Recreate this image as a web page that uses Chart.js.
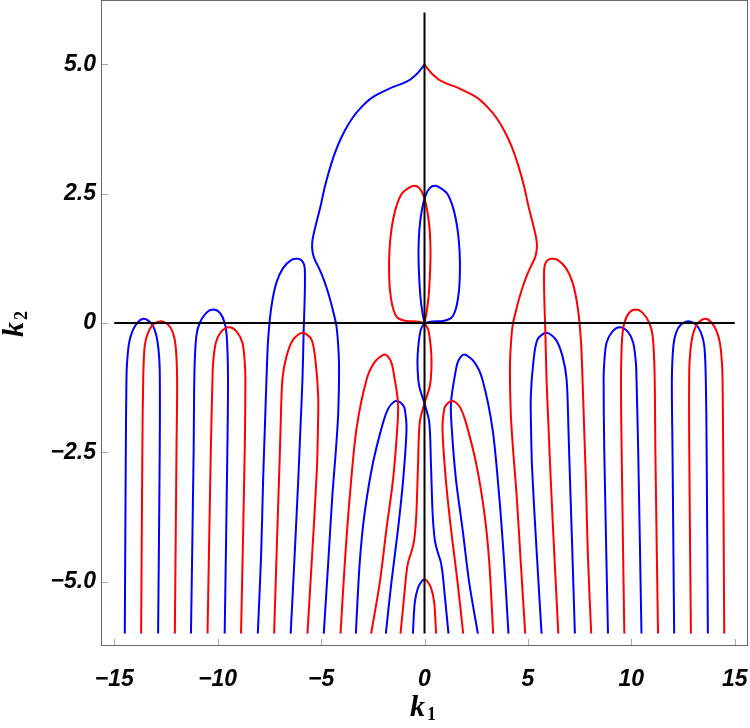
<!DOCTYPE html>
<html>
<head>
<meta charset="utf-8">
<script src="https://cdn.jsdelivr.net/npm/chart.js@4.4.1/dist/chart.umd.min.js"></script>
<style>
  html, body { margin: 0; padding: 0; background: #fff; }
  #wrap { width: 750px; height: 728px; }
</style>
</head>
<body>
<div id="wrap"><canvas id="plot" width="750" height="728"></canvas></div>
<script>
// tick positions
const xTicks = [-15, -10, -5, 0, 5, 10, 15];
const yTicks = [-5, -2.5, 0, 2.5, 5];

// axis lines through the origin
const axisH = [[-15, 0], [15, 0]];
const axisV = [[0, -6], [0, 6]];

// ---- blue contours, left / centre ----
const blueArch1 = [[-14.49,-6],[-14.44,-2.44],[-14.41,-1.09],[-14.38,-0.77],[-14.28,-0.38],[-14.09,-0.13],[-13.85,0.02],[-13.6,0.08],[-13.37,0.05],[-13.12,-0.06],[-12.96,-0.25],[-12.86,-0.51],[-12.8,-0.9],[-12.8,-2.44],[-12.88,-6]];
const blueArch2 = [[-11.29,-6],[-11.16,-2.44],[-11.14,-1.41],[-11.11,-0.77],[-11.03,-0.25],[-10.87,0.0],[-10.54,0.2],[-10.22,0.26],[-9.9,0.2],[-9.66,0],[-9.55,-0.32],[-9.5,-1.09],[-9.53,-2.44],[-9.66,-6]];
const blueArch3 = [[-8.06,-6],[-7.9,-4.5],[-7.8,-3.0],[-7.72,-2.05],[-7.64,-1.09],[-7.56,-0.32],[-7.40,0.32],[-7.16,0.78],[-6.84,1.06],[-6.43,1.22],[-6.11,1.24],[-5.9,1.19],[-5.79,1.06],[-5.79,0.52],[-5.84,-0.13],[-5.9,-1.09],[-6.0,-2.05],[-6.1,-3.0],[-6.28,-4.5],[-6.47,-6]];
const blueBig = [[0,4.99],[-0.18,4.9],[-0.4,4.8],[-0.7,4.7],[-1.05,4.63],[-1.45,4.57],[-1.85,4.5],[-2.25,4.42],[-2.65,4.32],[-3.05,4.17],[-3.45,3.98],[-3.85,3.72],[-4.2,3.42],[-4.52,3.06],[-4.8,2.66],[-5.03,2.25],[-5.22,1.95],[-5.36,1.72],[-5.43,1.55],[-5.42,1.4],[-5.33,1.25],[-5.15,1.1],[-4.95,0.92],[-4.75,0.7],[-4.56,0.45],[-4.4,0.2],[-4.26,-0.05],[-4.17,-0.45],[-4.13,-0.9],[-4.17,-1.73],[-4.28,-2.44],[-4.45,-3.3],[-4.65,-4.6],[-4.87,-6]];
const blueArch6 = [[-3.32,-6],[-3.13,-4.62],[-2.89,-3.66],[-2.49,-2.70],[-2.0,-1.92],[-1.75,-1.65],[-1.5,-1.53],[-1.28,-1.51],[-1.05,-1.58],[-0.95,-1.67],[-0.87,-2.05],[-1.03,-3.02],[-1.28,-3.98],[-1.60,-5.01],[-1.87,-6]];
const blueCusp = [[-0.56,-6],[-0.47,-5.40],[-0.31,-5.11],[-0.12,-4.98],[0,-4.95]];
const blueDown = [[0,0],[-0.18,-0.13],[-0.3,-0.45],[-0.34,-0.77],[-0.3,-1.1],[-0.22,-1.28],[0,-1.55],[0.23,-1.92],[0.31,-2.70],[0.39,-3.66],[0.47,-4.1],[0.55,-4.30],[0.68,-4.48],[0.79,-4.62],[0.88,-4.85],[0.95,-5.14],[1.05,-5.55],[1.16,-6]];
const blueLoop = [[0,0],[-0.1,0.2],[-0.2,0.52],[-0.27,1.0],[-0.29,1.4],[-0.25,1.8],[-0.14,2.15],[0.04,2.45],[0.26,2.61],[0.52,2.65],[0.8,2.6],[1.11,2.49],[1.4,2.2],[1.6,1.8],[1.7,1.35],[1.71,0.95],[1.66,0.6],[1.52,0.28],[1.3,0.1],[0.9,0.04],[0.4,0.03],[0,0]];

// ---- blue contours, right ----
const blueArch4R = [[4.06,-6],[3.85,-4.62],[3.61,-3.34],[3.29,-2.05],[2.80,-1.09],[2.4,-0.75],[1.92,-0.61],[1.65,-0.72],[1.52,-0.90],[1.28,-1.54],[1.32,-2.05],[1.52,-3.02],[1.84,-3.98],[2.16,-5.01],[2.58,-6]];
const blueArch3R = [[7.27,-6],[7.13,-4.2],[7.0,-2.6],[6.96,-2.05],[6.87,-1.09],[6.67,-0.64],[6.35,-0.32],[5.9,-0.19],[5.46,-0.32],[5.26,-0.77],[5.14,-1.41],[5.15,-2.0],[5.2,-2.8],[5.42,-4.4],[5.66,-6]];
const blueArch2R = [[10.49,-6],[10.33,-2.44],[10.25,-1.09],[10.22,-0.77],[10.09,-0.38],[9.82,-0.16],[9.45,-0.08],[9.09,-0.16],[8.8,-0.38],[8.69,-0.77],[8.66,-1.09],[8.69,-2.44],[8.87,-6]];
const blueArch1R = [[13.70,-6],[13.64,-2.44],[13.6,-1.09],[13.53,-0.45],[13.37,-0.19],[13.12,-0.03],[12.77,0.035],[12.4,-0.03],[12.16,-0.19],[12.03,-0.45],[11.96,-1.09],[11.99,-2.44],[12.07,-6]];

// ---- red contours, left / centre ----
const redArch1 = [[-13.70,-6],[-13.64,-2.44],[-13.6,-1.09],[-13.53,-0.45],[-13.37,-0.19],[-13.12,-0.03],[-12.77,0.035],[-12.4,-0.03],[-12.16,-0.19],[-12.03,-0.45],[-11.96,-1.09],[-11.99,-2.44],[-12.07,-6]];
const redArch2 = [[-10.49,-6],[-10.33,-2.44],[-10.25,-1.09],[-10.22,-0.77],[-10.09,-0.38],[-9.82,-0.16],[-9.45,-0.08],[-9.09,-0.16],[-8.8,-0.38],[-8.69,-0.77],[-8.66,-1.09],[-8.69,-2.44],[-8.87,-6]];
const redArch3 = [[-7.27,-6],[-7.13,-4.2],[-7.0,-2.6],[-6.96,-2.05],[-6.87,-1.09],[-6.67,-0.64],[-6.35,-0.32],[-5.9,-0.19],[-5.46,-0.32],[-5.26,-0.77],[-5.14,-1.41],[-5.15,-2.0],[-5.2,-2.8],[-5.42,-4.4],[-5.66,-6]];
const redArch4 = [[-4.06,-6],[-3.85,-4.62],[-3.61,-3.34],[-3.29,-2.05],[-2.80,-1.09],[-2.4,-0.75],[-1.92,-0.61],[-1.65,-0.72],[-1.52,-0.90],[-1.28,-1.54],[-1.32,-2.05],[-1.52,-3.02],[-1.84,-3.98],[-2.16,-5.01],[-2.58,-6]];
const redCusp = [[0.56,-6],[0.47,-5.40],[0.31,-5.11],[0.12,-4.98],[0,-4.95]];
const redDown = [[0,0],[0.18,-0.13],[0.3,-0.45],[0.34,-0.77],[0.3,-1.1],[0.22,-1.28],[0,-1.55],[-0.23,-1.92],[-0.31,-2.70],[-0.39,-3.66],[-0.47,-4.1],[-0.55,-4.30],[-0.68,-4.48],[-0.79,-4.62],[-0.88,-4.85],[-0.95,-5.14],[-1.05,-5.55],[-1.16,-6]];
const redLoop = [[0,0],[0.1,0.2],[0.2,0.52],[0.27,1.0],[0.29,1.4],[0.25,1.8],[0.14,2.15],[-0.04,2.45],[-0.26,2.61],[-0.52,2.65],[-0.8,2.6],[-1.11,2.49],[-1.4,2.2],[-1.6,1.8],[-1.7,1.35],[-1.71,0.95],[-1.66,0.6],[-1.52,0.28],[-1.3,0.1],[-0.9,0.04],[-0.4,0.03],[0,0]];

// ---- red contours, right ----
const redBig = [[0,4.99],[0.18,4.9],[0.4,4.8],[0.7,4.7],[1.05,4.63],[1.45,4.57],[1.85,4.5],[2.25,4.42],[2.65,4.32],[3.05,4.17],[3.45,3.98],[3.85,3.72],[4.2,3.42],[4.52,3.06],[4.8,2.66],[5.03,2.25],[5.22,1.95],[5.36,1.72],[5.43,1.55],[5.42,1.4],[5.33,1.25],[5.15,1.1],[4.95,0.92],[4.75,0.7],[4.56,0.45],[4.4,0.2],[4.26,-0.05],[4.17,-0.45],[4.13,-0.9],[4.17,-1.73],[4.28,-2.44],[4.45,-3.3],[4.65,-4.6],[4.87,-6]];
const redArch6R = [[3.32,-6],[3.13,-4.62],[2.89,-3.66],[2.49,-2.70],[2.0,-1.92],[1.75,-1.65],[1.5,-1.53],[1.28,-1.51],[1.05,-1.58],[0.95,-1.67],[0.87,-2.05],[1.03,-3.02],[1.28,-3.98],[1.60,-5.01],[1.87,-6]];
const redArch3R = [[8.06,-6],[7.9,-4.5],[7.8,-3.0],[7.72,-2.05],[7.64,-1.09],[7.56,-0.32],[7.40,0.32],[7.16,0.78],[6.84,1.06],[6.43,1.22],[6.11,1.24],[5.9,1.19],[5.79,1.06],[5.79,0.52],[5.84,-0.13],[5.9,-1.09],[6.0,-2.05],[6.1,-3.0],[6.28,-4.5],[6.47,-6]];
const redArch2R = [[11.29,-6],[11.16,-2.44],[11.14,-1.41],[11.11,-0.77],[11.03,-0.25],[10.87,0.0],[10.54,0.2],[10.22,0.26],[9.9,0.2],[9.66,0],[9.55,-0.32],[9.5,-1.09],[9.53,-2.44],[9.66,-6]];
const redArch1R = [[14.49,-6],[14.44,-2.44],[14.41,-1.09],[14.38,-0.77],[14.28,-0.38],[14.09,-0.13],[13.85,0.02],[13.6,0.08],[13.37,0.05],[13.12,-0.06],[12.96,-0.25],[12.86,-0.51],[12.8,-0.9],[12.8,-2.44],[12.88,-6]];

const blueCurves = [blueArch1, blueArch2, blueArch3, blueBig, blueArch6, blueCusp, blueDown, blueLoop,
                    blueArch4R, blueArch3R, blueArch2R, blueArch1R];
const redCurves = [redArch1, redArch2, redArch3, redArch4, redCusp, redDown, redLoop,
                   redBig, redArch6R, redArch3R, redArch2R, redArch1R];

function pts(arr) {
    return arr.map(p => ({ x: p[0], y: p[1] }));
}

function curve(arr, color) {
    return {
        data: pts(arr),
        showLine: true,
        borderColor: color,
        borderWidth: 2,
        pointRadius: 0,
        tension: 0.3,
        fill: false
    };
}

// axis lines first so they sit on top
let datasets = [curve(axisH, '#000'), curve(axisV, '#000')];
redCurves.forEach(c => datasets.push(curve(c, '#ff0000')));
blueCurves.forEach(c => datasets.push(curve(c, '#0000ff')));
datasets[0].tension = 0;
datasets[1].tension = 0;

function fmtX(v) {
    return v < 0 ? '\u2212' + Math.abs(v) : String(v);
}
function fmtY(v) {
    if (v === 0) return '0';
    return (v < 0 ? '\u2212' : '') + Math.abs(v).toFixed(1);
}

const tickFont = { family: '"Liberation Sans", Arial, sans-serif', size: 23, weight: 'bold', style: 'italic' };

// frame, inward ticks and axis titles
const framePlugin = {
    id: 'frame',
    afterDraw(chart) {
        const { ctx, chartArea: a, scales } = chart;
        ctx.save();
        ctx.lineWidth = 1;
        ctx.strokeStyle = '#a8a8a8';
        xTicks.forEach(v => {
            const px = Math.round(scales.x.getPixelForValue(v)) + 0.5;
            ctx.beginPath();
            ctx.moveTo(px, a.bottom);
            ctx.lineTo(px, a.bottom - 7);
            ctx.stroke();
        });
        yTicks.forEach(v => {
            const py = Math.round(scales.y.getPixelForValue(v)) + 0.5;
            ctx.beginPath();
            ctx.moveTo(a.left, py);
            ctx.lineTo(a.left + 7, py);
            ctx.stroke();
        });
        ctx.strokeStyle = '#666';
        ctx.strokeRect(a.left + 0.5, a.top + 0.5, a.right - a.left - 1, a.bottom - a.top - 1);

        ctx.fillStyle = '#000';
        ctx.textAlign = 'left';
        ctx.textBaseline = 'alphabetic';
        // k1
        ctx.font = 'italic bold 30px "Liberation Serif", serif';
        ctx.fillText('k', 410, 716);
        ctx.font = 'bold 18px "Liberation Serif", serif';
        ctx.fillText('1', 427, 720);
        // k2 (rotated)
        ctx.translate(23, 337);
        ctx.rotate(-Math.PI / 2);
        ctx.font = 'italic bold 30px "Liberation Serif", serif';
        ctx.fillText('k', 0, 0);
        ctx.font = 'bold 18px "Liberation Serif", serif';
        ctx.fillText('2', 17, 4);
        ctx.restore();
    }
};

new Chart(document.getElementById('plot').getContext('2d'), {
    type: 'scatter',
    data: { datasets: datasets },
    options: {
        responsive: false,
        animation: false,
        devicePixelRatio: 1,
        layout: { padding: { top: 0, right: 2, left: 0, bottom: 0 } },
        plugins: { legend: { display: false }, tooltip: { enabled: false } },
        scales: {
            x: {
                type: 'linear',
                min: -15.64,
                max: 15.64,
                grid: { display: false },
                border: { display: false },
                afterBuildTicks: s => { s.ticks = xTicks.map(v => ({ value: v })); },
                afterFit: s => { s.height = 82; s.paddingLeft = 0; s.paddingRight = 0; },
                ticks: { color: '#000', font: tickFont, padding: 12, maxRotation: 0, callback: v => fmtX(v) }
            },
            y: {
                type: 'linear',
                min: -6.24,
                max: 6.24,
                grid: { display: false },
                border: { display: false },
                afterBuildTicks: s => { s.ticks = yTicks.map(v => ({ value: v })); },
                afterFit: s => { s.width = 101; s.paddingTop = 0; s.paddingBottom = 0; },
                ticks: { color: '#000', font: tickFont, padding: -3, callback: v => fmtY(v) }
            }
        }
    },
    plugins: [framePlugin]
});
</script>
</body>
</html>
